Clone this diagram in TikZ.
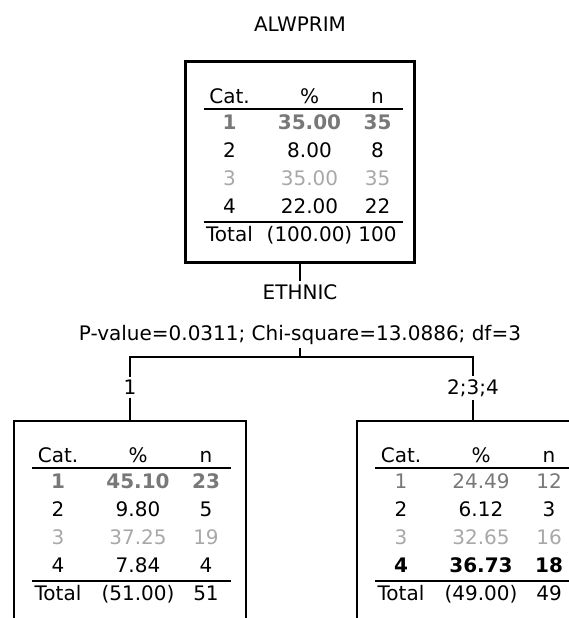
\documentclass[tikz,border=0pt]{standalone}
\usepackage{fontspec}
\setmainfont{DejaVu Sans}

\definecolor{catone}{RGB}{120,120,120}
\definecolor{catthree}{RGB}{168,168,168}

\tikzset{
	cell/.style={anchor=base,inner sep=0pt,font=\fontsize{20}{24}\selectfont},
	tag/.style={anchor=base,inner sep=3pt,font=\fontsize{20}{24}\selectfont},
	modeone/.style={text=catone,font=\fontsize{20}{24}\selectfont\bfseries},
	plainone/.style={text=catone},
	plaintwo/.style={text=black},
	plainthree/.style={text=catthree},
	plainfour/.style={text=black},
	modefour/.style={text=black,font=\fontsize{20}{24}\selectfont\bfseries},
	bigbox/.style={draw,line width=3pt,minimum width=229pt,minimum height=200pt,inner sep=0pt},
	smallbox/.style={draw,line width=1.3pt,minimum width=232pt,minimum height=200pt,inner sep=0pt},
	rule/.style={line width=1.3pt},
	link/.style={line width=1.2pt}
}

\begin{document}
\begin{tikzpicture}[x=1pt,y=-1pt]
	\useasboundingbox (0,0) rectangle (569,618);
	\clip (0,0) rectangle (569,618);

	\node[tag] (target) at (300,31.5) {ALWPRIM};
	\node[bigbox] (root) at (300,162) {};
	\begin{scope}[shift={(185.5,62)}]
		\node[cell] (root-cat) at (44,41.5) {Cat.};
		\node[cell] (root-pct) at (124,41.5) {\%};
		\node[cell] (root-n) at (192,41.5) {n};
		\draw[rule] (18,47) -- (217,47);
		\foreach \c/\p/\n/\f [count=\i] in {1/35.00/35/modeone,2/8.00/8/plaintwo,3/35.00/35/plainthree,4/22.00/22/plainfour}{
			\node[cell,\f] (root-c\i) at (44,{67.5+28*(\i-1)}) {\c};
			\node[cell,\f] (root-p\i) at (124,{67.5+28*(\i-1)}) {\p};
			\node[cell,\f] (root-n\i) at (192,{67.5+28*(\i-1)}) {\n};
		}
		\draw[rule] (18,160) -- (217,160);
		\node[cell] (root-tot) at (44,179.5) {Total};
		\node[cell] (root-totp) at (124,179.5) {(100.00)};
		\node[cell] (root-totn) at (192,179.5) {100};
	\end{scope}

	\node[tag] (split) at (300,299.5) {ETHNIC};
	\node[tag] (pval) at (300,340.5) {P-value=0.0311; Chi-square=13.0886; df=3};
	\coordinate (fork) at (300,357);
	\node[tag] (arm1) at (130,394.5) {1};
	\node[tag] (arm2) at (473,394.5) {2;3;4};

	\node[smallbox] (nodeone) at (130,521) {};
	\begin{scope}[shift={(14,421)}]
		\node[cell] (one-cat) at (44,41.5) {Cat.};
		\node[cell] (one-pct) at (124,41.5) {\%};
		\node[cell] (one-n) at (192,41.5) {n};
		\draw[rule] (18,47) -- (217,47);
		\foreach \c/\p/\n/\f [count=\i] in {1/45.10/23/modeone,2/9.80/5/plaintwo,3/37.25/19/plainthree,4/7.84/4/plainfour}{
			\node[cell,\f] (one-c\i) at (44,{67.5+28*(\i-1)}) {\c};
			\node[cell,\f] (one-p\i) at (124,{67.5+28*(\i-1)}) {\p};
			\node[cell,\f] (one-n\i) at (192,{67.5+28*(\i-1)}) {\n};
		}
		\draw[rule] (18,160) -- (217,160);
		\node[cell] (one-tot) at (44,179.5) {Total};
		\node[cell] (one-totp) at (124,179.5) {(51.00)};
		\node[cell] (one-totn) at (192,179.5) {51};
	\end{scope}

	\node[smallbox] (nodetwo) at (473,521) {};
	\begin{scope}[shift={(357,421)}]
		\node[cell] (two-cat) at (44,41.5) {Cat.};
		\node[cell] (two-pct) at (124,41.5) {\%};
		\node[cell] (two-n) at (192,41.5) {n};
		\draw[rule] (18,47) -- (217,47);
		\foreach \c/\p/\n/\f [count=\i] in {1/24.49/12/plainone,2/6.12/3/plaintwo,3/32.65/16/plainthree,4/36.73/18/modefour}{
			\node[cell,\f] (two-c\i) at (44,{67.5+28*(\i-1)}) {\c};
			\node[cell,\f] (two-p\i) at (124,{67.5+28*(\i-1)}) {\p};
			\node[cell,\f] (two-n\i) at (192,{67.5+28*(\i-1)}) {\n};
		}
		\draw[rule] (18,160) -- (217,160);
		\node[cell] (two-tot) at (44,179.5) {Total};
		\node[cell] (two-totp) at (124,179.5) {(49.00)};
		\node[cell] (two-totn) at (192,179.5) {49};
	\end{scope}

	\draw[link] (root.south) -- (split.north);
	\draw[link] (pval.south) -- (fork);
	\draw[link] (fork) -| (arm1.north);
	\draw[link] (fork) -| (arm2.north);
	\draw[link] (arm1.south) -- (nodeone.north);
	\draw[link] (arm2.south) -- (nodetwo.north);
\end{tikzpicture}
\end{document}
